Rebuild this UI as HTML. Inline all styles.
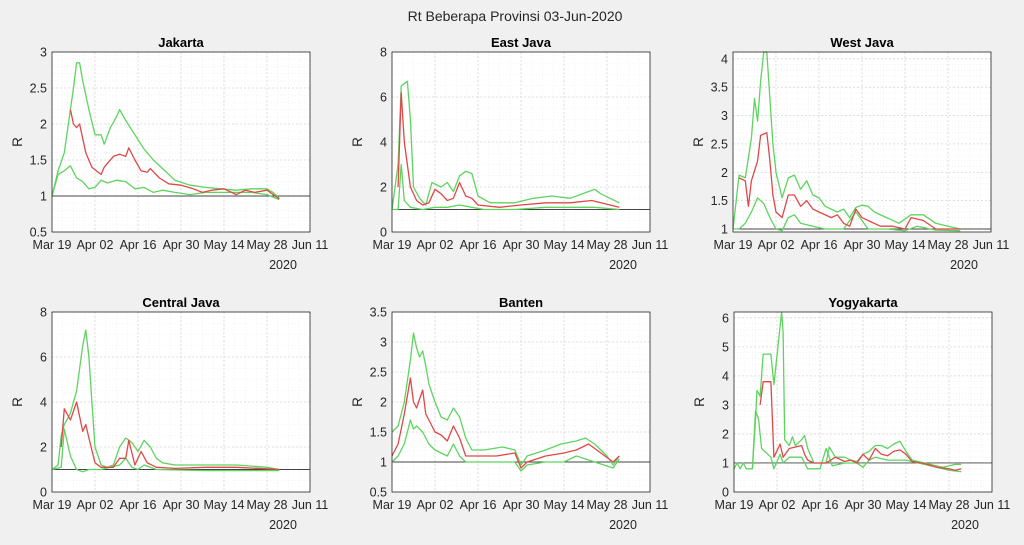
<!DOCTYPE html>
<html><head><meta charset="utf-8"><style>
body{margin:0;background:#f0f0f0;width:1024px;height:540px;overflow:hidden;font-family:"Liberation Sans",sans-serif}
</style></head><body>
<svg id="s" width="1024" height="540" xmlns="http://www.w3.org/2000/svg" font-family="Liberation Sans, sans-serif">
<text x="515" y="21" text-anchor="middle" font-size="14" fill="#262626">Rt Beberapa Provinsi 03-Jun-2020</text>
</svg>
<script>
const S=document.getElementById('s');const NS='http://www.w3.org/2000/svg';
function el(t,a,txt){const e=document.createElementNS(NS,t);for(const k in a)e.setAttribute(k,a[k]);if(txt!==undefined)e.textContent=txt;S.appendChild(e);return e;}
const P=[
{t:'Jakarta',x:52,y:52,yl:[0.5,3],tk:[0.5,1,1.5,2,2.5,3],mn:0.1,
u:[[0,1],[2,1.35],[4,1.6],[6,2.2],[7,2.5],[8,2.85],[9,2.85],[10,2.6],[12,2.2],[14,1.85],[16,1.85],[17,1.72],[19,1.95],[21,2.1],[22,2.2],[24,2.05],[27,1.85],[30,1.65],[33,1.5],[36,1.38],[40,1.22],[45,1.15],[50,1.12],[55,1.1],[60,1.08],[65,1.1],[70,1.1],[72,1.05],[74,0.97]],
m:[[6,2.2],[7,2.0],[8,1.95],[9,2.0],[11,1.6],[13,1.4],[15,1.33],[16,1.3],[17,1.4],[20,1.55],[22,1.58],[24,1.55],[25,1.67],[27,1.5],[29,1.35],[31,1.33],[32,1.38],[35,1.25],[38,1.17],[42,1.15],[46,1.1],[49,1.05],[52,1.08],[56,1.1],[60,1.02],[63,1.08],[66,1.05],[70,1.08],[74,0.96]],
l:[[0,1],[2,1.3],[4,1.35],[6,1.42],[8,1.25],[10,1.2],[12,1.1],[14,1.12],[16,1.22],[18,1.18],[21,1.22],[24,1.2],[27,1.1],[30,1.12],[33,1.05],[36,1.08],[40,1.05],[45,1.02],[50,1.05],[55,1.05],[60,1.05],[65,1.05],[70,1.02],[74,0.95]]},
{t:'East Java',x:392,y:52,yl:[0,8],tk:[0,2,4,6,8],mn:0.5,
u:[[0,1],[2,3],[3,6.5],[5,6.7],[6,5],[7,2],[9,1.5],[11,1.2],[13,2.2],[16,2.0],[18,2.2],[20,1.8],[22,2.5],[24,2.7],[26,2.6],[28,1.6],[32,1.3],[40,1.3],[46,1.5],[52,1.6],[58,1.5],[64,1.8],[66,1.9],[68,1.7],[71,1.5],[74,1.3]],
m:[[2,2],[3,6.2],[4,4],[6,2],[8,1.4],[10,1.2],[12,1.3],[14,1.9],[16,1.7],[18,1.4],[20,1.5],[22,2.2],[24,1.6],[26,1.5],[28,1.2],[35,1.1],[42,1.2],[50,1.3],[58,1.3],[65,1.4],[68,1.3],[74,1.1]],
l:[[0,1],[2,1],[3,3],[4,1.4],[6,1.1],[10,1.0],[14,1.1],[18,1.1],[22,1.2],[26,1.1],[30,1.0],[40,1.0],[50,1.1],[60,1.1],[66,1.1],[74,1.0]]},
{t:'West Java',x:733,y:52,yl:[0.947,4.12],tk:[1,1.5,2,2.5,3,3.5,4],mn:0.1,
u:[[0,1],[2,1.95],[4,1.9],[6,2.6],[7,3.3],[8,2.9],[9,3.6],[10,4.12],[11,4.12],[12,3.3],[13,2.5],[14,2.0],[16,1.55],[18,1.9],[20,1.95],[22,1.7],[24,1.85],[26,1.6],[28,1.55],[30,1.4],[34,1.3],[36,1.35],[38,1.2],[40,1.38],[42,1.42],[44,1.4],[46,1.3],[50,1.2],[54,1.1],[58,1.25],[62,1.25],[66,1.1],[70,1.05],[74,1.0]],
m:[[2,1.9],[4,1.85],[5,1.4],[6,1.85],[8,2.2],[9,2.65],[11,2.7],[12,2.2],[13,1.6],[14,1.3],[16,1.2],[18,1.6],[20,1.6],[22,1.4],[24,1.5],[26,1.35],[28,1.3],[32,1.2],[34,1.25],[36,1.1],[38,1.05],[40,1.35],[42,1.2],[44,1.15],[48,1.05],[52,1.05],[56,1.0],[58,1.2],[62,1.15],[66,1.0],[74,1.0]],
l:[[0,1],[2,1.0],[4,1.1],[6,1.3],[8,1.55],[10,1.45],[12,1.2],[14,1.0],[16,0.97],[18,1.2],[20,1.25],[22,1.1],[26,1.05],[30,1.0],[36,1.0],[40,1.3],[44,1.0],[50,1.0],[56,0.97],[60,1.05],[66,0.98],[74,0.97]]},
{t:'Central Java',x:52,y:312,yl:[0,8],tk:[0,2,4,6,8],mn:0.5,
u:[[0,1],[2,1.2],[3,2.5],[4,3],[6,3.5],[8,4.5],[10,6.5],[11,7.2],[12,6],[13,4],[14,2],[16,1.2],[18,1.1],[20,1.2],[22,2],[24,2.4],[26,2.2],[28,1.8],[30,2.3],[32,2],[34,1.5],[36,1.3],[40,1.2],[50,1.2],[60,1.2],[70,1.1],[74,1.0]],
m:[[3,2],[4,3.7],[6,3.2],[8,4],[10,2.7],[11,3],[12,2.4],[14,1.3],[16,1.1],[20,1.1],[22,1.5],[24,1.5],[25,2.3],[27,1.2],[29,1.8],[31,1.3],[34,1.1],[40,1.05],[50,1.1],[60,1.1],[74,1.0]],
l:[[0,1],[3,1.1],[4,2.8],[6,1.6],[8,1.0],[10,0.9],[12,1.0],[16,1.0],[22,1.2],[24,1.5],[26,1.1],[28,1.0],[30,1.2],[34,1.0],[50,0.95],[74,0.95]]},
{t:'Banten',x:392,y:312,yl:[0.5,3.5],tk:[0.5,1,1.5,2,2.5,3,3.5],mn:0.1,
u:[[0,1.5],[2,1.6],[4,2],[6,2.7],[7,3.15],[8,2.9],[9,2.75],[10,2.85],[11,2.6],[12,2.3],[14,2.0],[16,1.75],[18,1.7],[20,1.9],[22,1.75],[24,1.4],[26,1.2],[30,1.2],[36,1.25],[40,1.2],[42,0.95],[44,1.1],[50,1.2],[55,1.3],[60,1.35],[63,1.4],[66,1.3],[70,1.1],[72,0.95],[74,1.1]],
m:[[0,1.1],[2,1.3],[4,1.8],[6,2.4],[7,2.0],[8,1.9],[9,2.05],[10,2.2],[11,1.8],[12,1.7],[14,1.5],[16,1.45],[18,1.35],[20,1.6],[22,1.4],[24,1.1],[28,1.1],[34,1.1],[40,1.15],[42,0.9],[44,1.0],[50,1.1],[56,1.15],[60,1.2],[64,1.3],[68,1.15],[72,1.0],[74,1.1]],
l:[[0,1],[2,1.1],[4,1.3],[6,1.7],[7,1.55],[8,1.6],[10,1.5],[12,1.3],[14,1.2],[16,1.15],[18,1.1],[20,1.3],[22,1.1],[24,1.0],[30,1.0],[40,1.0],[42,0.85],[44,0.95],[50,1.0],[56,1.0],[60,1.1],[66,1.0],[72,0.9],[74,1.05]]},
{t:'Yogyakarta',x:734,y:312,yl:[0,6.2],tk:[0,1,2,3,4,5,6],mn:0.2,
u:[[0,0.8],[1,1],[2,0.8],[3,1],[4,0.8],[6,0.8],[7,2.5],[7.5,3.5],[8.5,3.3],[9.5,4.75],[12,4.75],[13,3.7],[14,4.7],[15.5,6.2],[16,5.5],[16.5,1.8],[18,1.6],[19,1.9],[20,1.6],[22,1.8],[23,1.95],[24,1.5],[26,1],[30,1],[31,1.55],[33,1.2],[36,1.2],[38,1.1],[40,1.05],[42,1.3],[44,1.4],[46,1.6],[48,1.6],[50,1.5],[52,1.65],[54,1.75],[56,1.4],[58,1.1],[62,1.0],[66,0.9],[68,0.85],[70,0.9],[72,0.95],[74,0.95]],
m:[[8.5,3.0],[9.5,3.8],[12,3.8],[13,1.2],[15,1.65],[16,1.2],[18,1.5],[20,1.55],[22,1.6],[23,1.3],[24,1.1],[26,1.0],[30,1.0],[33,1.2],[36,1.05],[38,1.1],[40,1.0],[42,1.3],[44,1.1],[46,1.5],[48,1.3],[50,1.25],[52,1.4],[54,1.45],[56,1.3],[58,1.05],[62,0.98],[66,0.85],[70,0.8],[72,0.75],[74,0.8]],
l:[[6,0.8],[7,2.8],[8,2.5],[9,1.5],[12,1.2],[13,0.8],[15,1.3],[16,1.0],[18,1.2],[22,1.2],[24,0.8],[28,0.8],[30,1.5],[32,0.9],[36,1.0],[40,1.0],[42,0.85],[44,1.1],[46,1.2],[50,1.1],[56,1.1],[60,1.0],[66,0.85],[70,0.75],[74,0.7]]}
];
const W=258,H=180,dates=['Mar 19','Apr 02','Apr 16','Apr 30','May 14','May 28','Jun 11'];
P.forEach(p=>{
 const X=d=>p.x+d*W/84, Y=v=>p.y+H-(v-p.yl[0])/(p.yl[1]-p.yl[0])*H;
 el('rect',{x:p.x,y:p.y,width:W,height:H,fill:'#fff'});
 // minor grid
 for(let v=Math.ceil(p.yl[0]/p.mn)*p.mn;v<p.yl[1];v+=p.mn){const y=Y(v);el('line',{x1:p.x,x2:p.x+W,y1:y,y2:y,stroke:'#ececec','stroke-width':0.6,'stroke-dasharray':'1 2'});}
 for(let d=3.5;d<84;d+=3.5){el('line',{x1:X(d),x2:X(d),y1:p.y,y2:p.y+H,stroke:'#ececec','stroke-width':0.6,'stroke-dasharray':'1 2'});}
 p.tk.forEach(v=>{const y=Y(v);el('line',{x1:p.x,x2:p.x+W,y1:y,y2:y,stroke:'#d8d8d8','stroke-width':0.8,'stroke-dasharray':'2 2'});
  el('text',{x:p.x-5,y:y+4.5,'text-anchor':'end','font-size':12.5,fill:'#262626'},String(v));});
 dates.forEach((t,i)=>{const x=X(i*14);el('line',{x1:x,x2:x,y1:p.y,y2:p.y+H,stroke:'#d8d8d8','stroke-width':0.8,'stroke-dasharray':'2 2'});
  el('text',{x:x,y:p.y+H+17,'text-anchor':'middle','font-size':12.5,fill:'#262626'},t);});
 el('text',{x:p.x+W-27,y:p.y+H+37,'text-anchor':'middle','font-size':12.5,fill:'#262626'},'2020');
 el('line',{x1:p.x,x2:p.x+W,y1:Y(1),y2:Y(1),stroke:'#444','stroke-width':0.9});
 const pl=(a,c)=>el('polyline',{points:a.map(q=>X(q[0]).toFixed(1)+','+Y(Math.min(Math.max(q[1],p.yl[0]),p.yl[1])).toFixed(1)).join(' '),fill:'none',stroke:c,'stroke-width':1.3,'stroke-linejoin':'round'});
 pl(p.u,'#5fd35f');pl(p.l,'#5fd35f');pl(p.m,'#e04848');
 el('rect',{x:p.x,y:p.y,width:W,height:H,fill:'none',stroke:'#262626','stroke-width':0.8});
 el('text',{x:p.x+W/2,y:p.y-5,'text-anchor':'middle','font-size':13,'font-weight':'bold',fill:'#000'},p.t);
 el('text',{x:0,y:0,'text-anchor':'middle','font-size':13.5,fill:'#262626',transform:`translate(${p.x-30},${p.y+H/2}) rotate(-90)`},'R');
});
</script>
</body></html>
